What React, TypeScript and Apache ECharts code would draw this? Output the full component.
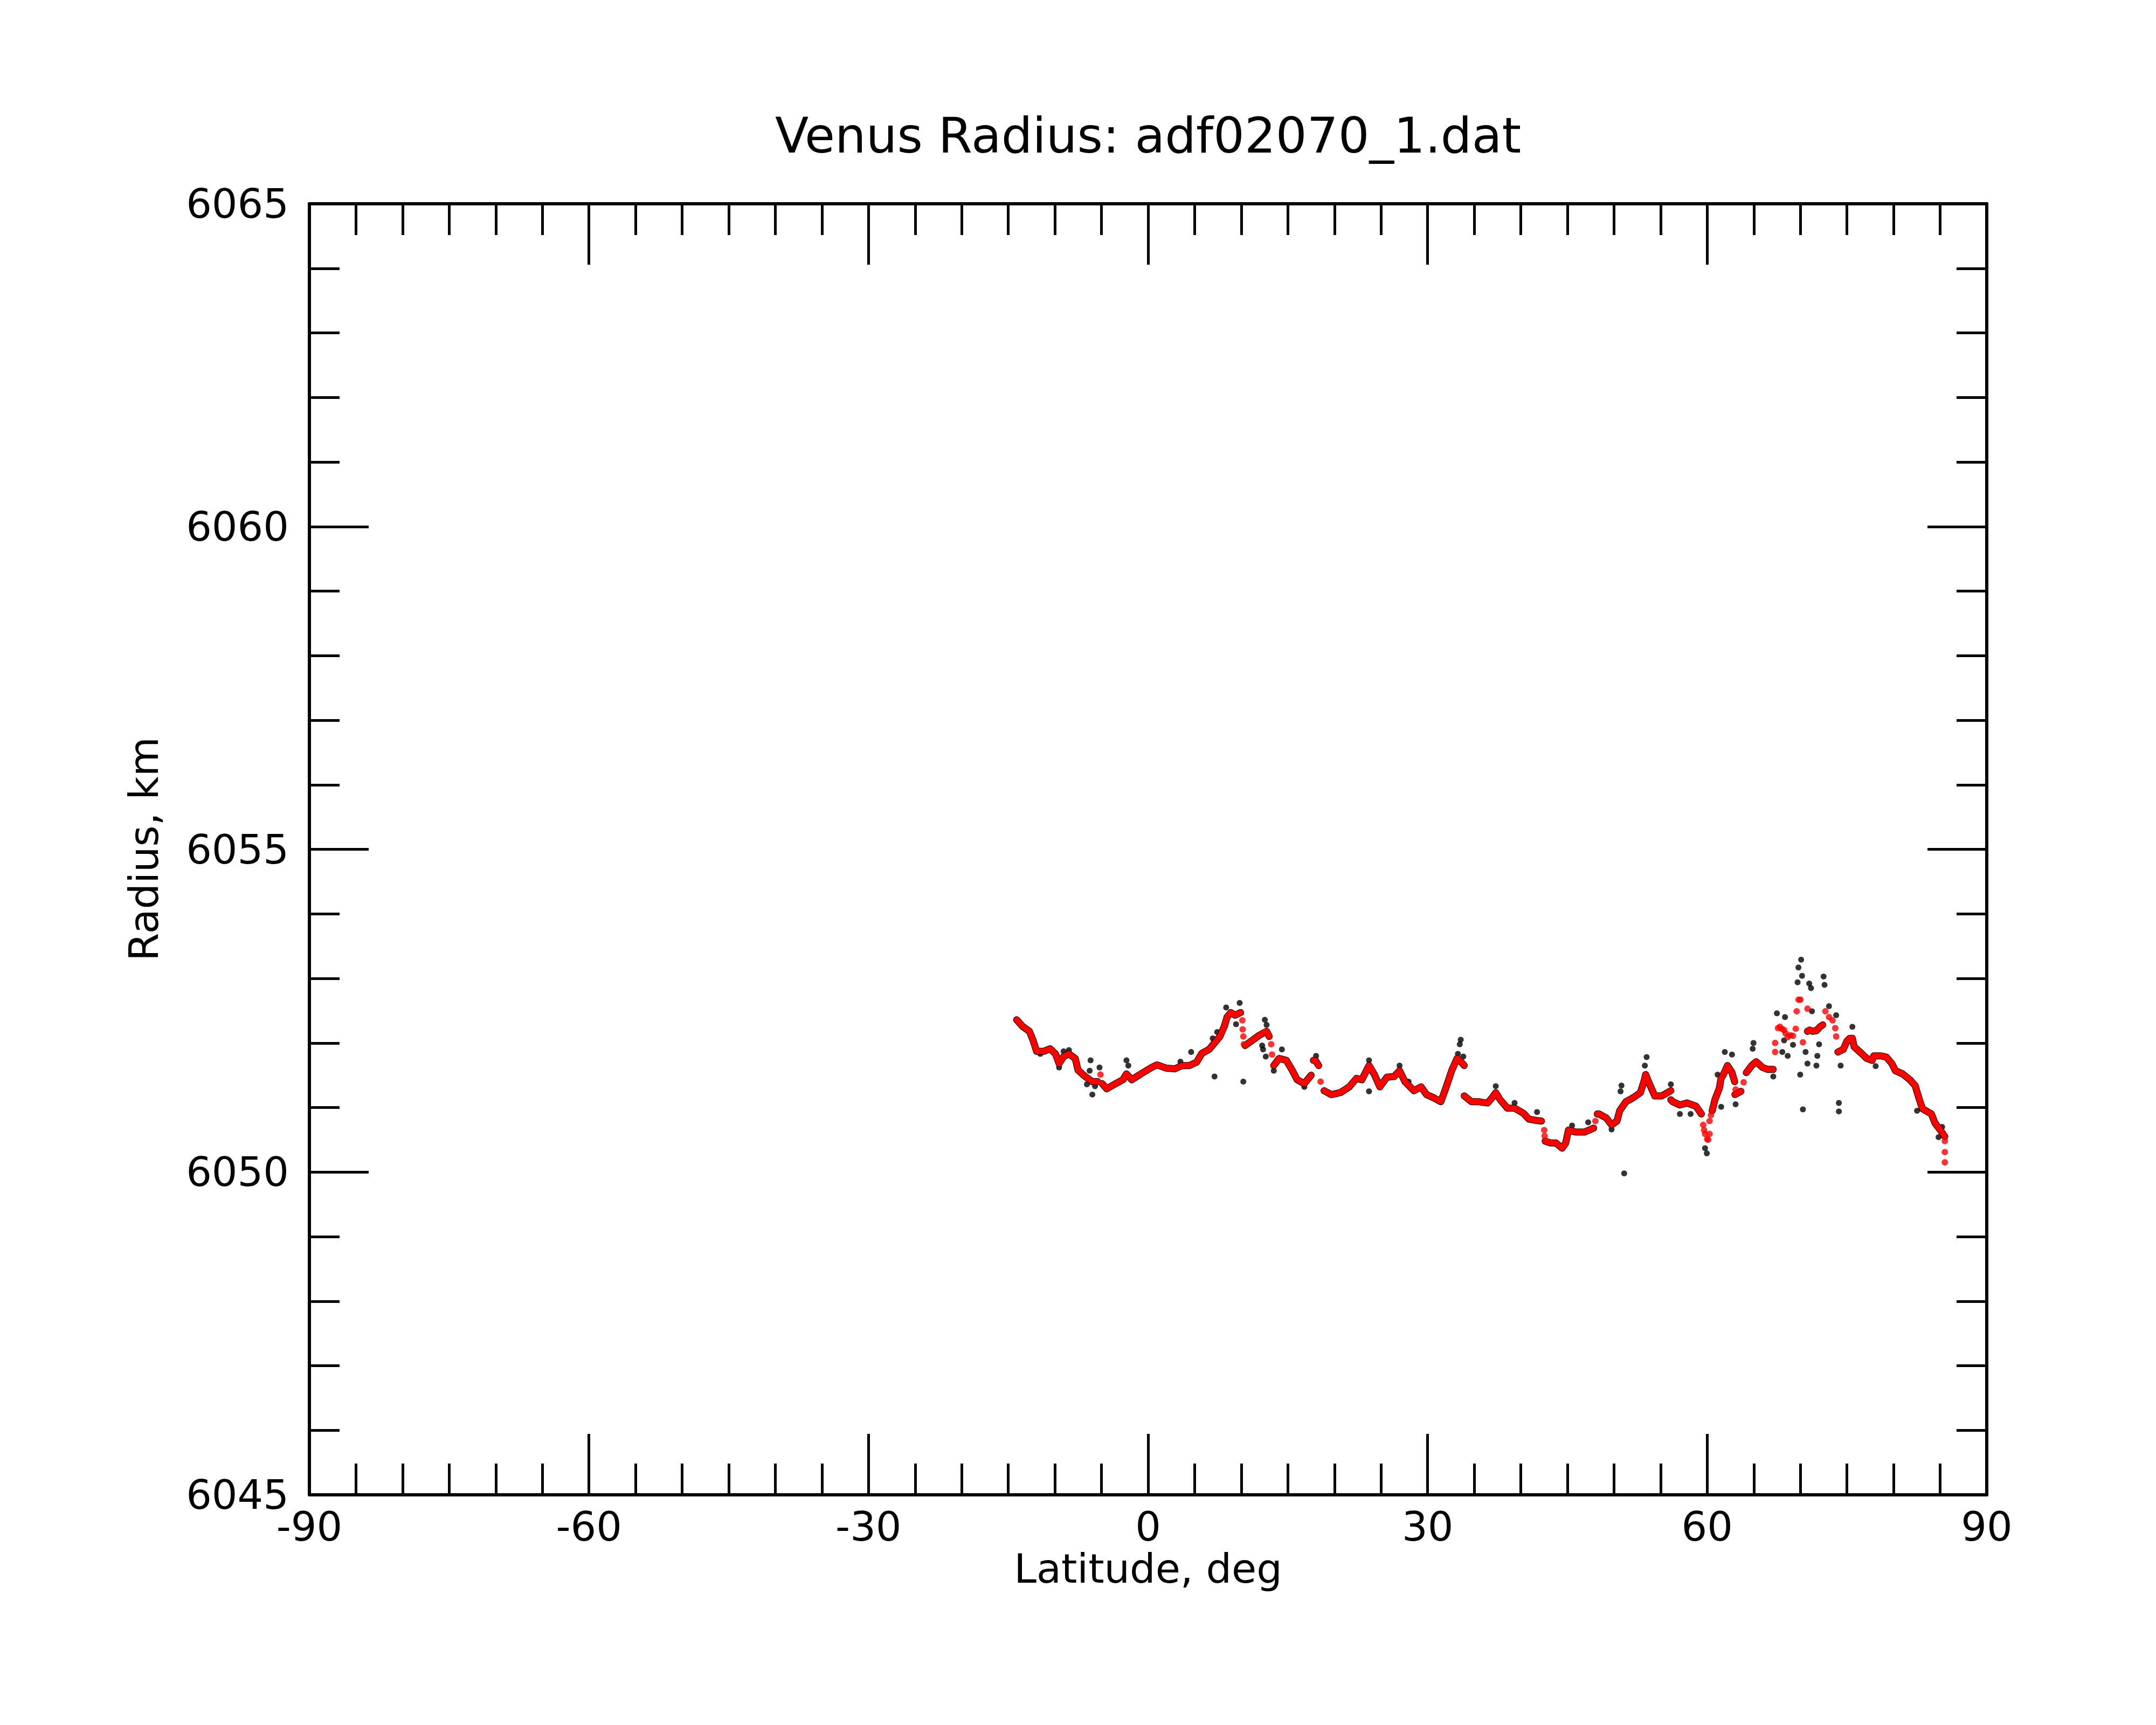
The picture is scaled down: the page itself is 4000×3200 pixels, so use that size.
import React, { useEffect, useRef } from "react";
import * as echarts from "echarts";

const TITLE = "Venus Radius: adf02070_1.dat";
const X_NAME = "Latitude, deg";
const Y_NAME = "Radius, km";
const X_MIN = -90;
const X_MAX = 90;
const X_STEP = 30;
const Y_MIN = 6045;
const Y_MAX = 6065;
const Y_STEP = 5;

type P = [number, number];

// red (smoothed) track, continuous stretches
const trailA: P[] = [[-14.1, 6052.36], [-13.5, 6052.26], [-12.73, 6052.18], [-12.34, 6052.04], [-11.96, 6051.87], [-11.18, 6051.87], [-10.51, 6051.91], [-9.93, 6051.83], [-9.55, 6051.68], [-9.06, 6051.79], [-8.49, 6051.83], [-7.81, 6051.76], [-7.52, 6051.58], [-6.75, 6051.48], [-5.98, 6051.4], [-5.4, 6051.4]];
const trailB: P[] = [[-4.92, 6051.37], [-4.44, 6051.29], [-3.47, 6051.37], [-2.7, 6051.43], [-2.32, 6051.52], [-1.74, 6051.43], [-0.77, 6051.52], [0.38, 6051.62], [0.96, 6051.66], [1.93, 6051.61], [2.89, 6051.6], [3.66, 6051.65], [4.43, 6051.65], [5.2, 6051.7], [5.78, 6051.84], [6.55, 6051.9], [7.13, 6052.0], [7.71, 6052.1], [8.19, 6052.26], [8.48, 6052.4], [8.87, 6052.47], [9.35, 6052.43], [9.93, 6052.47]];
const trailC: P[] = [[10.41, 6051.96], [11.18, 6052.04], [11.95, 6052.12], [12.72, 6052.18], [13.0, 6052.1]];
const trailD: P[] = [[13.49, 6051.65], [14.07, 6051.76], [14.84, 6051.73], [15.42, 6051.59], [16.0, 6051.43], [16.77, 6051.37], [17.5, 6051.5]];
const trailE: P[] = [[17.74, 6051.73], [18.0, 6051.72], [18.31, 6051.65]];
const trailF: P[] = [[18.89, 6051.26], [19.66, 6051.2], [20.63, 6051.23], [21.59, 6051.32], [22.36, 6051.45], [22.94, 6051.43], [23.71, 6051.65], [24.29, 6051.51], [24.87, 6051.32], [25.64, 6051.47], [26.41, 6051.48], [26.99, 6051.57], [27.57, 6051.4], [28.53, 6051.26], [29.3, 6051.32], [29.88, 6051.2], [30.65, 6051.15], [31.42, 6051.09], [32.0, 6051.32], [32.58, 6051.57], [33.16, 6051.76], [33.5, 6051.72], [33.93, 6051.65]];
const trailG: P[] = [[33.93, 6051.18], [34.7, 6051.09], [35.47, 6051.09], [35.86, 6051.08], [36.44, 6051.07], [36.92, 6051.15], [37.31, 6051.23], [37.79, 6051.12], [38.56, 6050.99], [39.33, 6050.99], [40.29, 6050.91], [40.87, 6050.82], [41.64, 6050.8], [42.22, 6050.79]];
const trailH: P[] = [[42.61, 6050.48], [43.19, 6050.45], [43.76, 6050.45], [44.44, 6050.37], [44.82, 6050.45], [45.11, 6050.65], [45.89, 6050.62], [46.85, 6050.62], [47.81, 6050.68]];
const trailI: P[] = [[48.2, 6050.9], [48.39, 6050.9], [49.16, 6050.84], [49.74, 6050.73], [50.32, 6050.79], [50.61, 6050.95], [51.28, 6051.09], [52.05, 6051.15], [52.83, 6051.23], [53.21, 6051.4], [53.4, 6051.51], [53.79, 6051.37], [54.37, 6051.18], [55.14, 6051.18], [56.1, 6051.26]];
const trailJ: P[] = [[56.1, 6051.12], [56.3, 6051.09], [57.07, 6051.04], [57.84, 6051.07], [58.8, 6051.02], [59.38, 6050.9]];
const trailK: P[] = [[60.54, 6050.95], [60.83, 6051.12], [61.31, 6051.3], [61.5, 6051.46], [61.7, 6051.5], [62.18, 6051.65], [62.66, 6051.54], [62.95, 6051.4]];
const trailL: P[] = [[62.98, 6051.2], [63.62, 6051.25]];
const trailM: P[] = [[64.2, 6051.54], [64.78, 6051.65], [65.26, 6051.71], [65.94, 6051.62], [66.52, 6051.59], [67.09, 6051.59]];
const trailN: P[] = [[70.76, 6052.18], [71.0, 6052.2], [71.3, 6052.18], [71.72, 6052.19], [72.1, 6052.25], [72.4, 6052.28]];
const trailO: P[] = [[74.03, 6051.86], [74.61, 6051.9], [75.0, 6052.03], [75.3, 6052.07], [75.58, 6052.07], [75.77, 6051.94], [76.54, 6051.84], [77.12, 6051.76], [77.7, 6051.73], [77.89, 6051.8], [78.66, 6051.8], [79.24, 6051.78], [79.82, 6051.68], [80.2, 6051.57], [80.98, 6051.52], [81.75, 6051.43], [82.32, 6051.34], [82.71, 6051.15], [83.1, 6050.98], [84.06, 6050.9], [84.44, 6050.76], [85.02, 6050.65], [85.5, 6050.55]];

// red isolated points
const redDots: P[] = [[-5.11, 6051.51], [10.12, 6052.35], [10.15, 6052.21], [10.22, 6052.1], [10.28, 6051.98], [13.21, 6051.98], [13.3, 6051.82], [18.51, 6051.4], [42.51, 6050.65], [42.55, 6050.56], [48.0, 6050.79], [59.57, 6050.73], [59.67, 6050.65], [59.77, 6050.59], [60.0, 6050.51], [60.1, 6050.5], [60.25, 6050.59], [60.25, 6050.79], [60.4, 6050.88], [63.05, 6051.28], [63.91, 6051.39], [67.29, 6051.86], [67.29, 6052.0], [67.6, 6052.23], [67.8, 6052.25], [68.0, 6052.22], [68.25, 6052.2], [68.4, 6052.15], [68.64, 6052.09], [68.9, 6052.12], [69.21, 6052.11], [69.5, 6052.22], [69.6, 6052.49], [69.8, 6052.67], [70.0, 6052.67], [70.27, 6052.01], [70.76, 6052.53], [72.68, 6052.49], [73.07, 6052.4], [73.45, 6052.35], [73.74, 6052.23], [73.84, 6052.1], [85.5, 6050.48], [85.5, 6050.31], [85.5, 6050.15]];

// black (raw) points off the track
const blackDots: P[] = [[-11.57, 6051.83], [-9.55, 6051.62], [-9.06, 6051.87], [-8.49, 6051.89], [-6.56, 6051.36], [-6.27, 6051.57], [-6.17, 6051.73], [-5.98, 6051.2], [-5.69, 6051.33], [-5.21, 6051.62], [-2.32, 6051.73], [-2.12, 6051.65], [3.47, 6051.71], [4.62, 6051.86], [6.94, 6052.07], [7.13, 6051.48], [7.42, 6052.17], [8.38, 6052.55], [9.44, 6052.29], [9.83, 6052.62], [10.22, 6051.4], [12.24, 6051.96], [12.34, 6051.9], [12.53, 6052.36], [12.63, 6051.79], [12.72, 6052.28], [13.49, 6051.57], [14.36, 6051.9], [16.77, 6051.32], [18.03, 6051.8], [23.71, 6051.73], [23.71, 6051.25], [26.99, 6051.65], [27.95, 6051.4], [33.25, 6051.83], [33.45, 6051.98], [33.55, 6052.05], [33.83, 6051.79], [37.31, 6051.33], [39.33, 6051.07], [41.74, 6050.93], [45.5, 6050.72], [47.23, 6050.77], [49.74, 6050.66], [50.7, 6051.25], [50.8, 6051.34], [51.09, 6049.98], [53.31, 6051.65], [53.5, 6051.78], [56.1, 6051.36], [57.07, 6050.9], [58.22, 6050.9], [59.77, 6050.37], [59.96, 6050.29], [61.12, 6051.51], [61.5, 6051.01], [61.89, 6051.86], [62.66, 6051.82], [63.05, 6051.05], [64.88, 6051.91], [64.97, 6052.0], [67.09, 6051.48], [67.48, 6052.46], [68.06, 6051.86], [68.25, 6052.04], [68.35, 6052.4], [68.64, 6051.8], [69.21, 6051.97], [69.7, 6052.94], [69.79, 6053.17], [69.98, 6051.51], [70.08, 6053.29], [70.18, 6053.04], [70.27, 6050.97], [70.56, 6051.86], [70.76, 6051.68], [70.95, 6052.92], [71.14, 6052.85], [71.24, 6052.49], [71.72, 6051.65], [71.82, 6051.8], [72.01, 6051.98], [72.49, 6053.03], [72.59, 6052.9], [73.07, 6052.57], [73.84, 6052.43], [74.13, 6051.07], [74.13, 6050.94], [74.32, 6051.65], [75.58, 6052.25], [78.08, 6051.64], [82.52, 6050.95], [84.83, 6050.54], [85.21, 6050.7]];

const TRAILS: P[][] = [trailA, trailB, trailC, trailD, trailE, trailF, trailG, trailH, trailI, trailJ, trailK, trailL, trailM, trailN, trailO];

const FONT = "DejaVu Sans";

export default function App() {
  const ref = useRef<HTMLDivElement>(null);
  useEffect(() => {
    if (!ref.current) return;
    const chart = echarts.init(ref.current, null, { renderer: "svg" });
    const axisLine = { show: true, onZero: false, lineStyle: { color: "#000", width: 6 } };
    const xTick = { show: true, inside: true, length: 113, lineStyle: { color: "#000", width: 5 } };
    const xMinor = { show: true, splitNumber: 6, length: 58, lineStyle: { color: "#000", width: 5 } };
    const yTick = { show: true, inside: true, length: 110, lineStyle: { color: "#000", width: 5 } };
    const yMinor = { show: true, splitNumber: 5, length: 56, lineStyle: { color: "#000", width: 5 } };
    const series: any[] = [];
    TRAILS.forEach((seg) => {
      series.push({
        type: "line", data: seg, showSymbol: false, symbol: "none", silent: true, z: 1,
        lineStyle: { color: "#000", width: 13, cap: "round", join: "round" },
      });
    });
    series.push({
      type: "scatter", data: blackDots, symbolSize: 11, silent: true, z: 2,
      itemStyle: { color: "#000" },
    });
    TRAILS.forEach((seg) => {
      series.push({
        type: "line", data: seg, showSymbol: false, symbol: "none", silent: true, z: 3,
        lineStyle: { color: "#ff0000", width: 11, cap: "round", join: "round" },
      });
    });
    series.push({
      type: "scatter", data: redDots, symbolSize: 12, silent: true, z: 4,
      itemStyle: { color: "#ff0000" },
    });
    chart.setOption({
      animation: false,
      backgroundColor: "#fff",
      grid: { left: 574, right: 314, top: 378, bottom: 427, containLabel: false },
      xAxis: [
        {
          type: "value", position: "bottom", min: X_MIN, max: X_MAX, interval: X_STEP,
          axisLine, axisTick: xTick, minorTick: xMinor, splitLine: { show: false },
          axisLabel: { show: true, margin: 29, lineHeight: 60, color: "#000", fontSize: 75, fontFamily: FONT, showMinLabel: true, showMaxLabel: true, formatter: (v: number) => String(v) },
        },
        {
          type: "value", position: "top", min: X_MIN, max: X_MAX, interval: X_STEP,
          axisLine, axisTick: xTick, minorTick: xMinor, splitLine: { show: false },
          axisLabel: { show: false },
        },
      ],
      yAxis: [
        {
          type: "value", position: "left", min: Y_MIN, max: Y_MAX, interval: Y_STEP,
          axisLine, axisTick: yTick, minorTick: yMinor, splitLine: { show: false },
          axisLabel: { show: true, margin: 38, lineHeight: 60, color: "#000", fontSize: 75, fontFamily: FONT, showMinLabel: true, showMaxLabel: true, formatter: (v: number) => String(v) },
        },
        {
          type: "value", position: "right", min: Y_MIN, max: Y_MAX, interval: Y_STEP,
          axisLine, axisTick: yTick, minorTick: yMinor, splitLine: { show: false },
          axisLabel: { show: false },
        },
      ],
      graphic: [
        {
          type: "text", x: 2130, y: 251, silent: true,
          style: { text: TITLE, fontSize: 91, fontFamily: FONT, fill: "#000", align: "center", verticalAlign: "middle", textAlign: "center", textVerticalAlign: "middle" },
        },
        {
          type: "text", x: 2130, y: 2910, silent: true,
          style: { text: X_NAME, fontSize: 75, lineHeight: 60, fontFamily: FONT, fill: "#000", align: "center", verticalAlign: "middle", textAlign: "center", textVerticalAlign: "middle" },
        },
        {
          type: "text", x: 267, y: 1575, rotation: Math.PI / 2, silent: true,
          style: { text: Y_NAME, fontSize: 75, fontFamily: FONT, fill: "#000", align: "center", verticalAlign: "middle", textAlign: "center", textVerticalAlign: "middle" },
        },
      ],
      series,
    });
    return () => chart.dispose();
  }, []);
  return <div ref={ref} style={{ position: "fixed", left: 0, top: 0, width: 4000, height: 3200, background: "#fff" }} />;
}
